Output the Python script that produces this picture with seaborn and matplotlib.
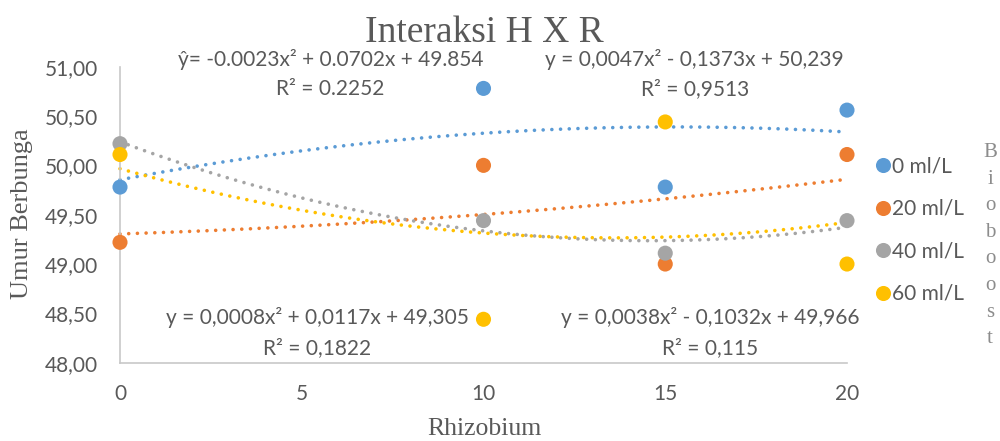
import numpy as np
import pandas as pd
import matplotlib
matplotlib.use("Agg")
import matplotlib.pyplot as plt
import seaborn as sns

# ---------------- data ----------------
rhizobium = [0, 10, 15, 20]
series_names = ["0 ml/L", "20 ml/L", "40 ml/L", "60 ml/L"]
umur_0 = [49.78, 50.78, 49.78, 50.56]
umur_20 = [49.22, 50.00, 49.00, 50.11]
umur_40 = [50.22, 49.44, 49.11, 49.44]
umur_60 = [50.11, 48.44, 50.44, 49.00]

# polynomial (order 2) trendline coefficients as printed on the chart
coef_0 = [-0.0023, 0.0702, 49.854]
coef_20 = [0.0008, 0.0117, 49.305]
coef_40 = [0.0047, -0.1373, 50.239]
coef_60 = [0.0038, -0.1032, 49.966]

eq_labels = ["ŷ= -0.0023x² + 0.0702x + 49.854",
             "y = 0,0008x² + 0,0117x + 49,305",
             "y = 0,0047x² - 0,1373x + 50,239",
             "y = 0,0038x² - 0,1032x + 49,966"]
r2_labels = ["R² = 0.2252", "R² = 0,1822", "R² = 0,9513", "R² = 0,115"]

y_ticks = [48.0, 48.5, 49.0, 49.5, 50.0, 50.5, 51.0]
y_ticklabels = ["48,00", "48,50", "49,00", "49,50", "50,00", "50,50", "51,00"]
x_ticks = [0, 5, 10, 15, 20]

title = "Interaksi H X R"
xlabel = "Rhizobium"
ylabel = "Umur Berbunga"
legend_title = "Bioboost"

colors = ["#5B9BD5", "#ED7D31", "#A5A5A5", "#FFC000"]

# ---------------- style ----------------
sns.set_theme(style="white")
plt.rcParams["font.family"] = ["Lato", "DejaVu Sans"]
SANS = ["Lato", "DejaVu Sans"]
SERIF = ["Liberation Serif", "DejaVu Serif"]
TXT = "#595959"

W, H = 1000, 441
def px(x, y):
    return x / W, 1 - y / H

fig = plt.figure(figsize=(10, 4.41), dpi=100)
ax = fig.add_axes([120 / W, 1 - 362.7 / H, 727 / W, (362.7 - 66.7) / H])

df = pd.DataFrame({
    "Rhizobium": rhizobium * 4,
    "Umur": umur_0 + umur_20 + umur_40 + umur_60,
    "Biobost": [s for s in series_names for _ in rhizobium],
})

# trendlines
coefs = [coef_0, coef_20, coef_40, coef_60]
xs = np.linspace(min(rhizobium), max(rhizobium), 200)
for c, col in zip(coefs, colors):
    ax.plot(xs, np.polyval(c, xs), color=col, lw=2.6,
            linestyle=(0, (0.01, 2.4)), dash_capstyle="round", zorder=2,
            clip_on=False)

sns.scatterplot(data=df, x="Rhizobium", y="Umur", hue="Biobost",
                hue_order=series_names, palette=colors, s=118,
                edgecolor="none", linewidth=0, ax=ax, zorder=3,
                clip_on=False, legend=True)

ax.set_xlim(0, 20)
ax.set_ylim(48, 51)
ax.set_xticks(x_ticks)
ax.set_xticklabels([str(v) for v in x_ticks])
ax.set_yticks(y_ticks)
ax.set_yticklabels(y_ticklabels)
ax.tick_params(axis="x", length=0, pad=15, labelsize=15, labelcolor=TXT)
ax.tick_params(axis="y", length=0, pad=16, labelsize=15, labelcolor=TXT)
for lab in ax.get_xticklabels() + ax.get_yticklabels():
    lab.set_fontfamily(SANS)
ax.set_xlabel("")
ax.set_ylabel("")
ax.grid(False)
for side in ["top", "right"]:
    ax.spines[side].set_visible(False)
for side in ["left", "bottom"]:
    ax.spines[side].set_color("#C8C8C8")
    ax.spines[side].set_linewidth(1.2)
ax.patch.set_alpha(0)

# legend
handles, labels = ax.get_legend_handles_labels()
leg = ax.legend(handles, labels, loc="upper left",
                bbox_to_anchor=px(866, 146), bbox_transform=fig.transFigure,
                frameon=False, fontsize=15, handlelength=0.6,
                handletextpad=0.15, labelspacing=1.08, borderpad=0,
                markerscale=1.0)
for t in leg.get_texts():
    t.set_color(TXT)
    t.set_fontfamily(SANS)

# legend title written vertically, one letter per line
for i, ch in enumerate(legend_title):
    fig.text(*px(990, 157 + 26.6 * i), ch, ha="center", va="baseline",
             fontsize=15, color="#8C8C8C", family=SERIF)

# title and axis labels
fig.text(*px(484, 28.5), title, ha="center", va="center_baseline",
         fontsize=27, color=TXT, family=SERIF)
fig.text(*px(484, 435), xlabel, ha="center", va="baseline",
         fontsize=18.5, color=TXT, family=SERIF)
fig.text(*px(22, 214), ylabel, ha="center", va="center", rotation=90,
         fontsize=19, color=TXT, family=SERIF)

# trendline equations
eq_pos = [(331, 60), (317, 318), (694, 60), (710, 318)]
r2_pos = [(330, 89), (317, 348), (695, 89), (710, 348)]
for lab, (x, y) in zip(eq_labels, eq_pos):
    fig.text(*px(x, y), lab, ha="center", va="center", fontsize=15,
             color=TXT, family=SANS)
for lab, (x, y) in zip(r2_labels, r2_pos):
    fig.text(*px(x, y), lab, ha="center", va="center", fontsize=15,
             color=TXT, family=SANS)

fig.savefig("out.png", dpi=100, facecolor="white")
